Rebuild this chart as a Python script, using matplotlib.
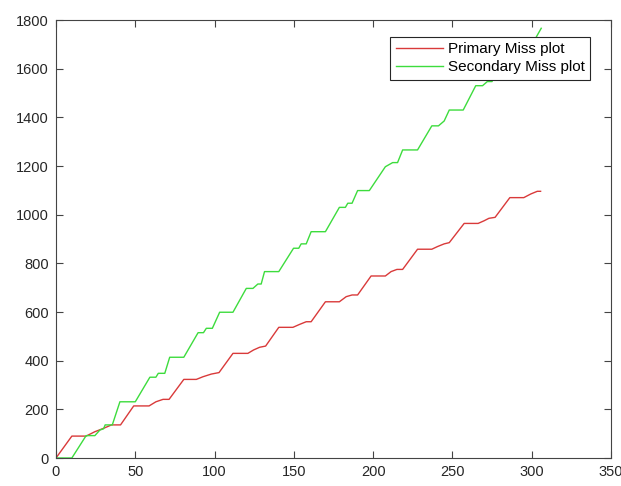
import numpy as np
import matplotlib
matplotlib.use('Agg')
import matplotlib.pyplot as plt

plt.rcParams['font.family'] = ['Liberation Sans', 'DejaVu Sans']

# step-like miss counts (x, y vertices)
primary_x = [0, 10, 19, 24.5, 30, 35, 40.7, 49, 58.7, 63,
             67.5, 71.3, 80.6, 88.5, 92.7, 98, 102.8, 111.6, 121, 124.6,
             128.4, 132.2, 140.5, 149.4, 153.6, 157.8, 160.9, 169.9, 178.7, 183,
             186.7, 190.2, 198.7, 207.7, 211.3, 215, 218.6, 228, 237, 240.6,
             244.8, 248, 257.4, 266.2, 270, 273, 276.9, 286.2, 295, 299.4,
             303.5, 305.6]
primary_y = [0, 90, 90, 108, 122, 136, 136, 214, 214, 231,
             241, 241, 323, 323, 334, 345, 351, 430, 430, 444,
             455, 460, 537, 537, 549, 560, 560, 642, 642, 663,
             670, 670, 748, 748, 766, 775, 775, 858, 858, 869,
             880, 885, 964, 964, 975, 985, 989, 1070, 1070, 1085,
             1096, 1096]

secondary_x = [0, 10, 19, 24.5, 27.7, 30, 31, 35.5, 40.3, 50,
               59.2, 63, 64.5, 68.6, 71.7, 80.6, 89.6, 93, 94.8, 98.6,
               103.2, 111.6, 120, 124.2, 127.3, 129.4, 131.5, 140.5, 149.8, 153.1,
               154.6, 157.8, 160.9, 169.9, 178.7, 182.5, 184, 186.7, 190.2, 197.6,
               207.7, 212.3, 215.4, 218.6, 228, 237, 241.2, 244.8, 248, 256.8,
               264.7, 269, 272, 275, 277, 286, 295, 299, 302, 306]
secondary_y = [0, 0, 92, 92, 115, 120, 136, 136, 231, 231,
               332, 332, 348, 348, 414, 414, 515, 515, 533, 533,
               599, 599, 697, 697, 715, 715, 766, 766, 862, 862,
               880, 880, 930, 930, 1030, 1030, 1047, 1047, 1099, 1099,
               1197, 1214, 1214, 1266, 1266, 1365, 1365, 1385, 1430, 1430,
               1530, 1530, 1547, 1547, 1600, 1600, 1700, 1700, 1720, 1766]

fig = plt.figure(figsize=(6.21, 4.86), dpi=100)
ax = fig.add_axes([56/621, 28/486, 555/621, 438/486])

ax.plot(primary_x, primary_y, color='#d93a3a', lw=1.0, label='Primary Miss plot')
ax.plot(secondary_x, secondary_y, color='#3ddc3d', lw=1.0, label='Secondary Miss plot')

ax.set_xlim(0, 350)
ax.set_ylim(0, 1800)
ax.set_xticks(np.arange(0, 351, 50))
ax.set_yticks(np.arange(0, 1801, 200))
ax.tick_params(direction='in', top=True, right=True, length=5, width=0.8,
               color='#444444', labelsize=10.5, labelcolor='#262626', pad=5)
for s in ax.spines.values():
    s.set_color('#444444'); s.set_linewidth(0.8)

leg = ax.legend(loc='upper right', bbox_to_anchor=(0.962, 0.961), borderaxespad=0,
                fancybox=False, edgecolor='#262626', fontsize=11, handlelength=3.1,
                handletextpad=0.3, borderpad=0.35, labelspacing=0.25, framealpha=1)
leg.get_frame().set_linewidth(0.8)

plt.savefig('out.png', dpi=100)
plt.close()
